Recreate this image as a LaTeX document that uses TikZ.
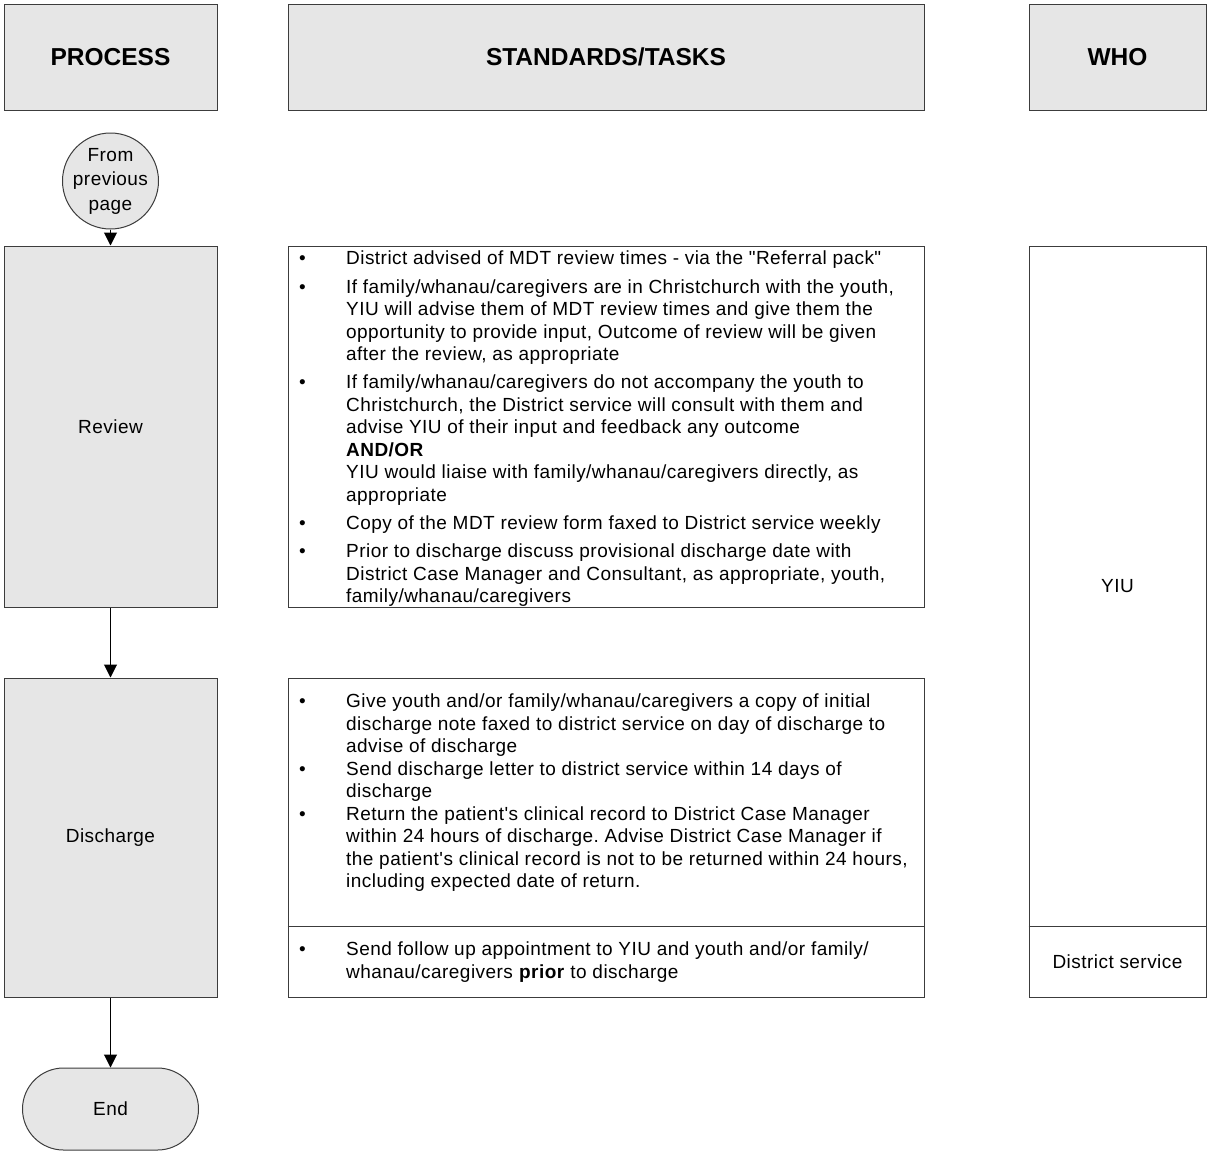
\documentclass[tikz,border=0pt]{standalone}
\usepackage{fontspec}
\setmainfont{Liberation Sans}[Ligatures=TeXOff]
\newfontfamily\bodyfam{Liberation Sans}[Ligatures=TeXOff, LetterSpace=2.4]
\usepackage{array}
\usetikzlibrary{arrows.meta}
\definecolor{boxgray}{RGB}{230,230,230}
\definecolor{linegray}{RGB}{60,60,60}
\newcommand{\bodyfont}{\bodyfam\fontsize{19}{22.5}\selectfont\frenchspacing}
\newcommand{\circfont}{\bodyfam\fontsize{19}{24.5}\selectfont}
\newcommand{\hdrfont}{\fontsize{24.5}{30}\selectfont\bfseries}
\newcommand{\pgap}{\\[5.75pt]}
\begin{document}
\begin{tikzpicture}[x=1pt,y=-1pt,
  shaded/.style={draw=linegray, line width=1pt, fill=boxgray, inner sep=0pt, font=\bodyfont},
  hdr/.style={shaded, font=\hdrfont, minimum height=106pt},
  plain/.style={draw=linegray, line width=1pt, fill=white, inner sep=0pt},
  divline/.style={draw=linegray, line width=1pt},
  arr/.style={draw=black, line width=1pt, -{Triangle[length=13pt,width=13pt]}},
  tasktext/.style={anchor=north west, inner sep=0pt, font=\bodyfont},
  lbl/.style={inner sep=0pt, font=\bodyfont}]
\useasboundingbox (0,0) rectangle (1207,1162);

% headers
\node[hdr, minimum width=213pt] (hproc) at (110.5,57) {PROCESS};
\node[hdr, minimum width=636pt] (hstd) at (606,57) {STANDARDS/TASKS};
\node[hdr, minimum width=177pt] (hwho) at (1117.5,57) {WHO};

% process column
\node[shaded, circle, minimum size=96pt, inner sep=-3pt, align=center, font=\circfont] (from) at (110.5,181) {From\\previous\\page};
\node[shaded, minimum width=213pt, minimum height=361pt] (review) at (110.5,426.5) {Review};
\node[shaded, minimum width=213pt, minimum height=319pt] (discharge) at (110.5,837.5) {Discharge};
\node[shaded, rounded corners=41pt, minimum width=176pt, minimum height=82pt] (end) at (110.5,1109) {End};

\draw[arr] (from) -- (review);
\draw[arr] (review) -- (discharge);
\draw[arr] (discharge) -- (end);

% standards/tasks column
\node[plain, minimum width=636pt, minimum height=361pt] (trev) at (606,426.5) {};
\node[plain, minimum width=636pt, minimum height=319pt] (tdis) at (606,837.5) {};
\coordinate (tdiv) at (606,926);
\draw[divline] (tdis.west |- tdiv) -- (tdis.east |- tdiv);

\node[tasktext] (trevtext) at (299,249) {\begin{tabular}{@{}p{47pt}@{}l@{}}
\textbullet & District advised of MDT review times - via the "Referral pack"\pgap
\textbullet & If family/whanau/caregivers are in Christchurch with the youth,\\
 & YIU will advise them of MDT review times and give them the\\
 & opportunity to provide input, Outcome of review will be given\\
 & after the review, as appropriate\pgap
\textbullet & If family/whanau/caregivers do not accompany the youth to\\
 & Christchurch, the District service will consult with them and\\
 & advise YIU of their input and feedback any outcome\\
 & \textbf{AND/OR}\\
 & YIU would liaise with family/whanau/caregivers directly, as\\
 & appropriate\pgap
\textbullet & Copy of the MDT review form faxed to District service weekly\pgap
\textbullet & Prior to discharge discuss provisional discharge date with\\
 & District Case Manager and Consultant, as appropriate, youth,\\
 & family/whanau/caregivers
\end{tabular}};

\node[tasktext] (tdistext) at (299,692) {\begin{tabular}{@{}p{47pt}@{}l@{}}
\textbullet & Give youth and/or family/whanau/caregivers a copy of initial\\
 & discharge note faxed to district service on day of discharge to\\
 & advise of discharge\\
\textbullet & Send discharge letter to district service within 14 days of\\
 & discharge\\
\textbullet & Return the patient's clinical record to District Case Manager\\
 & within 24 hours of discharge. Advise District Case Manager if\\
 & the patient's clinical record is not to be returned within 24 hours,\\
 & including expected date of return.
\end{tabular}};

\node[tasktext] (tfoltext) at (299,940) {\begin{tabular}{@{}p{47pt}@{}l@{}}
\textbullet & Send follow up appointment to YIU and youth and/or family/\\
 & whanau/caregivers \textbf{prior} to discharge
\end{tabular}};

% who column
\node[plain, minimum width=177pt, minimum height=751pt] (who) at (1117.5,621.5) {};
\coordinate (wdiv) at (1117.5,926);
\draw[divline] (who.west |- wdiv) -- (who.east |- wdiv);
\node[lbl] (yiu) at (1117.5,586) {YIU};
\node[lbl] (dserv) at (1117.5,961.5) {District service};
\end{tikzpicture}
\end{document}
